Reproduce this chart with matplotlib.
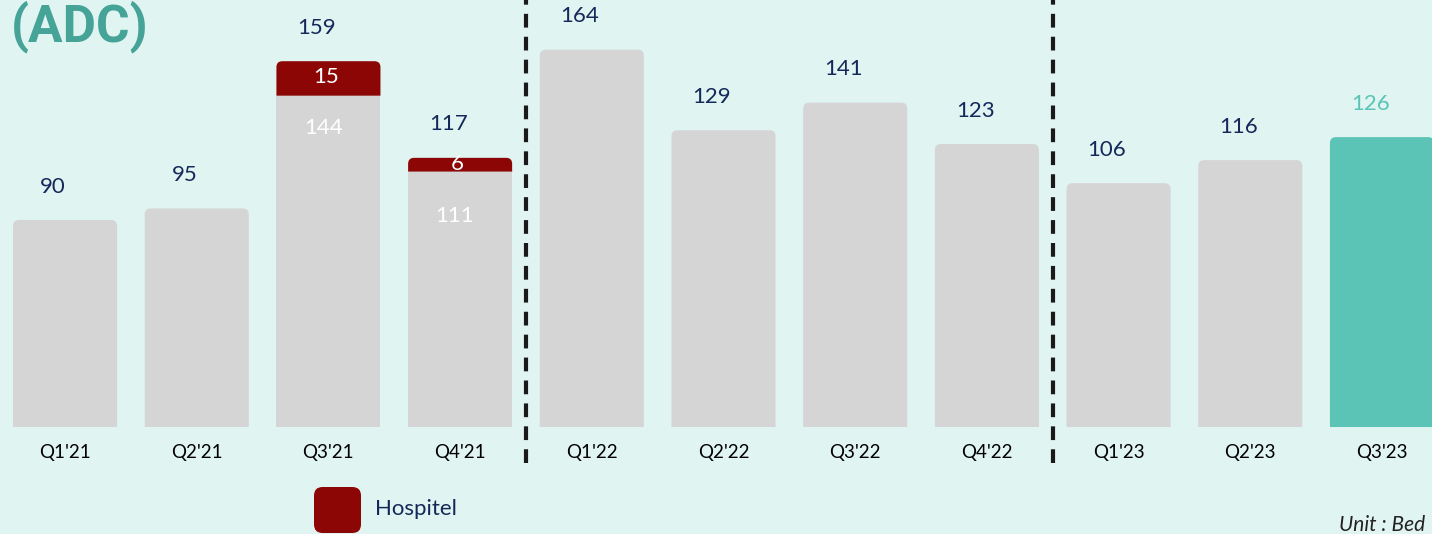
#!/usr/bin/env python
# -*- coding: utf-8 -*-

'''
Quarterly bed count bar chart with Hospitel segments
'''

import matplotlib
matplotlib.use("Agg")
import matplotlib.pyplot as plt
from matplotlib.patches import FancyBboxPatch, PathPatch
from matplotlib.path import Path

quarters = ["Q1'21", "Q2'21", "Q3'21", "Q4'21", "Q1'22", "Q2'22",
            "Q3'22", "Q4'22", "Q1'23", "Q2'23", "Q3'23"]
base_beds = [90, 95, 144, 111, 164, 129, 141, 123, 106, 116, 126]
hospitel_beds = [0, 0, 15, 6, 0, 0, 0, 0, 0, 0, 0]
period_breaks = [3.5, 7.5]

BG = "#e0f4f1"
GREY = "#d5d5d5"
RED = "#8c0606"
TEAL = "#5bc4b6"
NAVY = "#14295a"

W, H = 1432, 534
XLIM = (-0.494, 10.38)
YLIM = (-46.5, 185.6)
plt.rcParams['font.family'] = ['Lato', 'DejaVu Sans']

fig = plt.figure(figsize=(W / 100, H / 100), dpi=100)
fig.patch.set_facecolor(BG)
ax = fig.add_axes([0, 0, 1, 1])
ax.set_facecolor(BG)
ax.set_xlim(*XLIM)
ax.set_ylim(*YLIM)
ax.axis('off')

px_x = W / (XLIM[1] - XLIM[0])
px_y = H / (YLIM[1] - YLIM[0])


def px(x, y):
    # pixel coords (from top-left) -> figure fraction
    return x / W, 1 - y / H


def round_top(rect, radius_px=6):
    # swap a bar rectangle for one with rounded top corners only
    x, y0 = rect.get_x(), rect.get_y()
    w, h = rect.get_width(), rect.get_height()
    y1 = y0 + h
    rx = radius_px / px_x
    ry = min(radius_px / px_y, h)
    verts = [(x, y0), (x, y1 - ry), (x, y1), (x + rx, y1),
             (x + w - rx, y1), (x + w, y1), (x + w, y1 - ry),
             (x + w, y0), (x, y0)]
    codes = [Path.MOVETO, Path.LINETO, Path.CURVE3, Path.CURVE3,
             Path.LINETO, Path.CURVE3, Path.CURVE3, Path.LINETO,
             Path.CLOSEPOLY]
    col = rect.get_facecolor()
    z = rect.get_zorder()
    rect.set_visible(False)
    ax.add_patch(PathPatch(Path(verts, codes), facecolor=col,
                           edgecolor='none', zorder=z))


n = len(quarters)
colors = [TEAL if i == n - 1 else GREY for i in range(n)]
base_bars = ax.bar(range(n), base_beds, width=0.79, color=colors,
                   linewidth=0, zorder=2)
hosp_bars = ax.bar(range(n), hospitel_beds, width=0.79, bottom=base_beds,
                   color=RED, linewidth=0, zorder=2)
for i in range(n):
    if hospitel_beds[i]:
        round_top(hosp_bars[i])
    else:
        hosp_bars[i].set_visible(False)
        round_top(base_bars[i])

for i in range(n):
    total = base_beds[i] + hospitel_beds[i]
    lab_col = TEAL if i == n - 1 else NAVY
    ax.text(i - 0.09, total + 14.5, str(total),
            ha='center', va='center', fontsize=16, color=lab_col)
    if hospitel_beds[i]:
        ax.text(i - 0.02, base_beds[i] + hospitel_beds[i] / 2 + 0.5,
                str(hospitel_beds[i]), ha='center', va='center',
                fontsize=16, color='white', zorder=3)
        off = 14 if hospitel_beds[i] > 10 else 19.5
        ax.text(i - 0.04, base_beds[i] - off, str(base_beds[i]),
                ha='center', va='center', fontsize=16, color='white',
                zorder=3)
    ax.text(i, -10.9, quarters[i], ha='center', va='center',
            fontsize=13.5, color='black')

for xb in period_breaks:
    ax.plot([xb, xb], [-15.5, 186], color='#1a1a1a', linewidth=3,
            linestyle=(0, (3.3, 2.2)), zorder=4, clip_on=False)

# logo
fig.text(*px(11, 41), "(ADC)", fontsize=37, fontweight='bold',
         color="#45a397", family='Roboto', ha='left', va='baseline')

# legend
lx, ly = px(314, 533)
lw, lh = 47 / W, 46 / H
fig.patches.append(FancyBboxPatch((lx, ly), lw, lh,
                                  boxstyle="round,pad=0,rounding_size=0.006",
                                  transform=fig.transFigure, facecolor=RED,
                                  edgecolor='none', mutation_aspect=W / H))
fig.text(*px(375, 509), "Hospitel", fontsize=16, color=NAVY,
         ha='left', va='center')

fig.text(*px(1425, 531), "Unit : Bed", fontsize=15, style='italic',
         color='#222222', ha='right', va='baseline')

fig.savefig("out.png", dpi=100, facecolor=BG)
